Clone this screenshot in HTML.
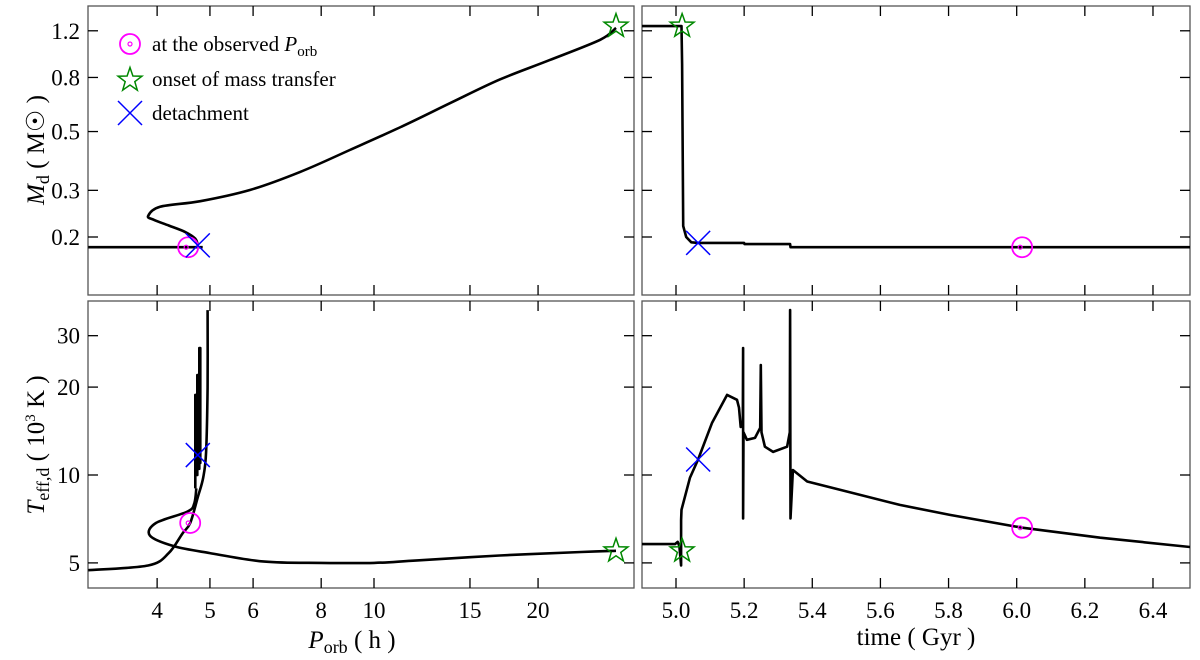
<!DOCTYPE html>
<html><head><meta charset="utf-8">
<style>
body{margin:0;background:#fff;}
svg{display:block;font-family:"Liberation Serif",serif;}
</style></head>
<body>
<svg id="fig" width="1200" height="660" viewBox="0 0 1200 660" xmlns="http://www.w3.org/2000/svg"></svg>
<script>
// ---- data ----
const massTickLabels=[0.2,0.3,0.5,0.8,1.2];
const tempTickLabels=[5,10,20,30];
const porbTickLabels=[4,5,6,8,10,15,20];
const timeTickLabels=[5.0,5.2,5.4,5.6,5.8,6.0,6.2,6.4];
// top-left: Porb (h) vs Md
const tlMainP=[27.8,26.0,21.0,17.0,13.8,11.2,9.03,7.32,5.92,4.80,4.05,3.85,3.95,4.2,4.5,4.7,4.75];
const tlMainM=[1.23,1.11,0.93,0.785,0.64,0.52,0.426,0.352,0.301,0.273,0.26,0.240,0.232,0.221,0.209,0.197,0.186];
const tlFlatP=[2.99,4.85];
const tlFlatM=[0.183,0.183];
// bottom-left: Porb vs Teff (kK)
const blLowP=[27.8,24.0,17.0,12.0,10.0,8.0,6.3,5.0,4.3,3.88,3.98,4.55,4.68,4.72];
const blLowT=[5.5,5.45,5.3,5.1,5.0,5.0,5.05,5.4,5.7,6.2,6.85,7.5,8.0,9.0];
const blRiseP=[2.99,3.85,4.2,4.45,4.60,4.75,4.86,4.92,4.95,4.95];
const blRiseT=[4.72,4.9,5.4,6.3,6.85,8.4,9.8,12.0,20.0,36.7];
const blSpikeP=[4.70,4.70,4.72,4.72,4.74,4.74,4.76,4.76,4.78,4.78,4.80,4.80,4.76];
const blSpikeT=[9.0,18.8,18.8,10.0,10.0,22.0,22.0,10.5,10.5,27.2,27.2,11.0,11.7];
// time series
const trT=[4.90,5.016,5.018,5.021,5.030,5.045,5.065,5.20,5.201,5.335,5.336,6.52];
const trM=[1.25,1.25,0.90,0.22,0.200,0.191,0.190,0.190,0.188,0.188,0.183,0.183];
const brT=[4.90,4.997,5.005,5.010,5.015,5.015,5.016,5.041,5.065,5.106,5.150,5.179,5.185,5.190,5.196,5.197,5.197,5.198,5.208,5.232,5.247,5.249,5.251,5.261,5.285,5.326,5.334,5.335,5.336,5.343,5.385,5.481,5.657,5.804,6.016,6.245,6.52];
const brV=[5.8,5.8,5.9,5.7,4.9,7.0,7.6,9.8,11.3,15.1,18.8,18.1,17.0,14.6,14.8,27.2,7.1,14.0,13.2,13.4,14.5,23.8,14.0,12.5,12.0,12.5,14.0,36.7,7.1,10.4,9.5,8.9,7.9,7.3,6.6,6.1,5.65];
// markers [x, y]
const obsTL=[4.56,0.183], onsetTL=[27.8,1.25], detTL=[4.75,0.186];
const obsTR=[6.016,0.183], onsetTR=[5.018,1.25], detTR=[5.065,0.19];
const obsBL=[4.60,6.85], onsetBL=[27.8,5.5], detBL=[4.75,11.7];
const obsBR=[6.016,6.6], onsetBR=[5.018,5.5], detBR=[5.065,11.3];

// ---- axes ----
const L={x0:88,x1:634}, R={x0:642,x1:1190}, T={y0:6,y1:295}, B={y0:301,y1:588};
const xP=p=>374+545*Math.log10(p/10);
const xT=t=>676+340.7*(t-5);
const yM=m=>237-265*Math.log10(m/0.2);
const yK=k=>475-292*Math.log10(k/10);
const NS='http://www.w3.org/2000/svg';
const svg=document.getElementById('fig');
function mk(tag,attrs,parent){const e=document.createElementNS(NS,tag);for(const k in attrs)e.setAttribute(k,attrs[k]);(parent||svg).appendChild(e);return e;}
function clip(id,px,py){const d=mk('clipPath',{id:id});mk('rect',{x:px.x0,y:py.y0,width:px.x1-px.x0,height:py.y1-py.y0},d);}
clip('cTL',L,T);clip('cTR',R,T);clip('cBL',L,B);clip('cBR',R,B);
function line(xs,ys,fx,fy,cp,name,smooth){
  const pts=xs.map((v,i)=>[fx(v),fy(ys[i])]);
  let d='M'+pts[0][0].toFixed(1)+' '+pts[0][1].toFixed(1);
  for(let i=0;i<pts.length-1;i++){
    if(smooth){
      const p0=pts[Math.max(0,i-1)],p1=pts[i],p2=pts[i+1],p3=pts[Math.min(pts.length-1,i+2)];
      const c1=[p1[0]+(p2[0]-p0[0])/6,p1[1]+(p2[1]-p0[1])/6],c2=[p2[0]-(p3[0]-p1[0])/6,p2[1]-(p3[1]-p1[1])/6];
      d+=`C${c1[0].toFixed(1)} ${c1[1].toFixed(1)} ${c2[0].toFixed(1)} ${c2[1].toFixed(1)} ${p2[0].toFixed(1)} ${p2[1].toFixed(1)}`;
    } else d+='L'+pts[i+1][0].toFixed(1)+' '+pts[i+1][1].toFixed(1);
  }
  const p=mk('path',{d:d,fill:'none',stroke:'#000','stroke-width':2.6,'stroke-linejoin':'round','clip-path':'url(#'+cp+')'});
  
  
}
function panel(px,py,name){
  const r=mk('rect',{x:px.x0,y:py.y0,width:px.x1-px.x0,height:py.y1-py.y0,fill:'none',stroke:'#555','stroke-width':1.3});
  
  
}
function xticks(px,py,vals,f,labels,fmt){
  vals.forEach(v=>{const x=f(v);
    mk('line',{x1:x,x2:x,y1:py.y1,y2:py.y1-10,stroke:'#000','stroke-width':1.3});
    mk('line',{x1:x,x2:x,y1:py.y0,y2:py.y0+10,stroke:'#000','stroke-width':1.3});
    if(labels){const t=mk('text',{x:x,y:py.y1+30,'font-size':23,'text-anchor':'middle'});t.textContent=fmt(v);
      
      }
  });
}
function yticks(px,vals,f,labels){
  vals.forEach(v=>{const y=f(v);
    mk('line',{x1:px.x0,x2:px.x0+10,y1:y,y2:y,stroke:'#000','stroke-width':1.3});
    mk('line',{x1:px.x1,x2:px.x1-10,y1:y,y2:y,stroke:'#000','stroke-width':1.3});
    if(labels){const t=mk('text',{x:px.x0-8,y:y+8,'font-size':23,'text-anchor':'end'});t.textContent=String(v);
      
      }
  });
}
panel(L,T,'mass-porb-panel');panel(R,T,'mass-time-panel');panel(L,B,'teff-porb-panel');panel(R,B,'teff-time-panel');
xticks(L,T,porbTickLabels,xP,false);xticks(R,T,timeTickLabels,xT,false);
xticks(L,B,porbTickLabels,xP,true,v=>String(v));xticks(R,B,timeTickLabels,xT,true,v=>v.toFixed(1));
yticks(L,massTickLabels,yM,true);yticks(R,massTickLabels,yM,false);
yticks(L,tempTickLabels,yK,true);yticks(R,tempTickLabels,yK,false);

line(tlMainP,tlMainM,xP,yM,'cTL','mass-porb-track',true);
line(tlFlatP,tlFlatM,xP,yM,'cTL','mass-porb-detached');
line(blLowP,blLowT,xP,yK,'cBL','teff-porb-track',true);
line(blRiseP,blRiseT,xP,yK,'cBL','teff-porb-cooling',true);
line(blSpikeP,blSpikeT,xP,yK,'cBL','teff-porb-flashes');
line(trT,trM,xT,yM,'cTR','mass-time-track');
line(brT,brV,xT,yK,'cBR','teff-time-track');

function circ(x,y,name){const g=mk('g',{});
  mk('circle',{cx:x,cy:y,r:10,fill:'none',stroke:'#f0f','stroke-width':1.8},g);
  mk('circle',{cx:x-2,cy:y,r:2,fill:'none',stroke:'#f0f','stroke-width':1.2},g);}
function star(x,y,name){let d='';for(let i=0;i<10;i++){const r=i%2?5:12.5,a=-Math.PI/2+i*Math.PI/5;d+=(i?'L':'M')+(x+r*Math.cos(a)).toFixed(1)+' '+(y+r*Math.sin(a)).toFixed(1);}
  const p=mk('path',{d:d+'Z',fill:'none',stroke:'#080','stroke-width':1.5});}
function cross(x,y,name){const p=mk('path',{d:`M${x-12} ${y-12}L${x+12} ${y+12}M${x-12} ${y+12}L${x+12} ${y-12}`,stroke:'#00f','stroke-width':1.5});
  }
circ(xP(obsTL[0]),yM(obsTL[1]),'observed-marker');star(xP(onsetTL[0]),yM(onsetTL[1]),'onset-marker');cross(xP(detTL[0]),yM(detTL[1]),'detachment-marker');
circ(xT(obsTR[0]),yM(obsTR[1]),'observed-marker');star(xT(onsetTR[0]),yM(onsetTR[1]),'onset-marker');cross(xT(detTR[0]),yM(detTR[1]),'detachment-marker');
circ(xP(obsBL[0]),yK(obsBL[1]),'observed-marker');star(xP(onsetBL[0]),yK(onsetBL[1]),'onset-marker');cross(xP(detBL[0]),yK(detBL[1]),'detachment-marker');
circ(xT(obsBR[0]),yK(obsBR[1]),'observed-marker');star(xT(onsetBR[0]),yK(onsetBR[1]),'onset-marker');cross(xT(detBR[0]),yK(detBR[1]),'detachment-marker');
</script>
<svg style="position:absolute;left:0;top:0" width="1200" height="660" xmlns="http://www.w3.org/2000/svg" font-family="Liberation Serif, serif">
<g>
<g><circle cx="130" cy="44" r="10" fill="none" stroke="#f0f" stroke-width="1.8"/><circle cx="130" cy="44" r="2" fill="none" stroke="#f0f" stroke-width="1.2"/><text x="152" y="51" font-size="21">at the observed <tspan font-style="italic">P</tspan><tspan font-size="15" dy="5">orb</tspan></text></g>
<g><path d="M130 67.5L132.9 76L141.9 76.2L134.8 81.6L137.3 90.1L130 85L122.7 90.1L125.2 81.6L118.1 76.2L127.1 76Z" fill="none" stroke="#080" stroke-width="1.5"/><text x="152" y="86" font-size="21">onset of mass transfer</text></g>
<g><path d="M118 101L142 125M118 125L142 101" stroke="#00f" stroke-width="1.5"/><text x="152" y="120" font-size="21">detachment</text></g>
</g>
<text transform="translate(44,150) rotate(-90)" font-size="25" text-anchor="middle"><tspan font-style="italic">M</tspan><tspan font-size="18" dy="5">d</tspan><tspan dy="-5"> ( M</tspan><tspan>☉</tspan> )</text>
<text transform="translate(44,445) rotate(-90)" font-size="25" text-anchor="middle"><tspan font-style="italic">T</tspan><tspan font-size="18" dy="5">eff,d</tspan><tspan dy="-5"> ( 10</tspan><tspan font-size="15" dy="-9">3</tspan><tspan dy="9"> K )</tspan></text>
<text x="352" y="648" font-size="25" text-anchor="middle"><tspan font-style="italic">P</tspan><tspan font-size="18" dy="5">orb</tspan><tspan dy="-5"> ( h )</tspan></text>
<text x="916" y="645" font-size="25" text-anchor="middle">time ( Gyr )</text>
</svg>
</body></html>
